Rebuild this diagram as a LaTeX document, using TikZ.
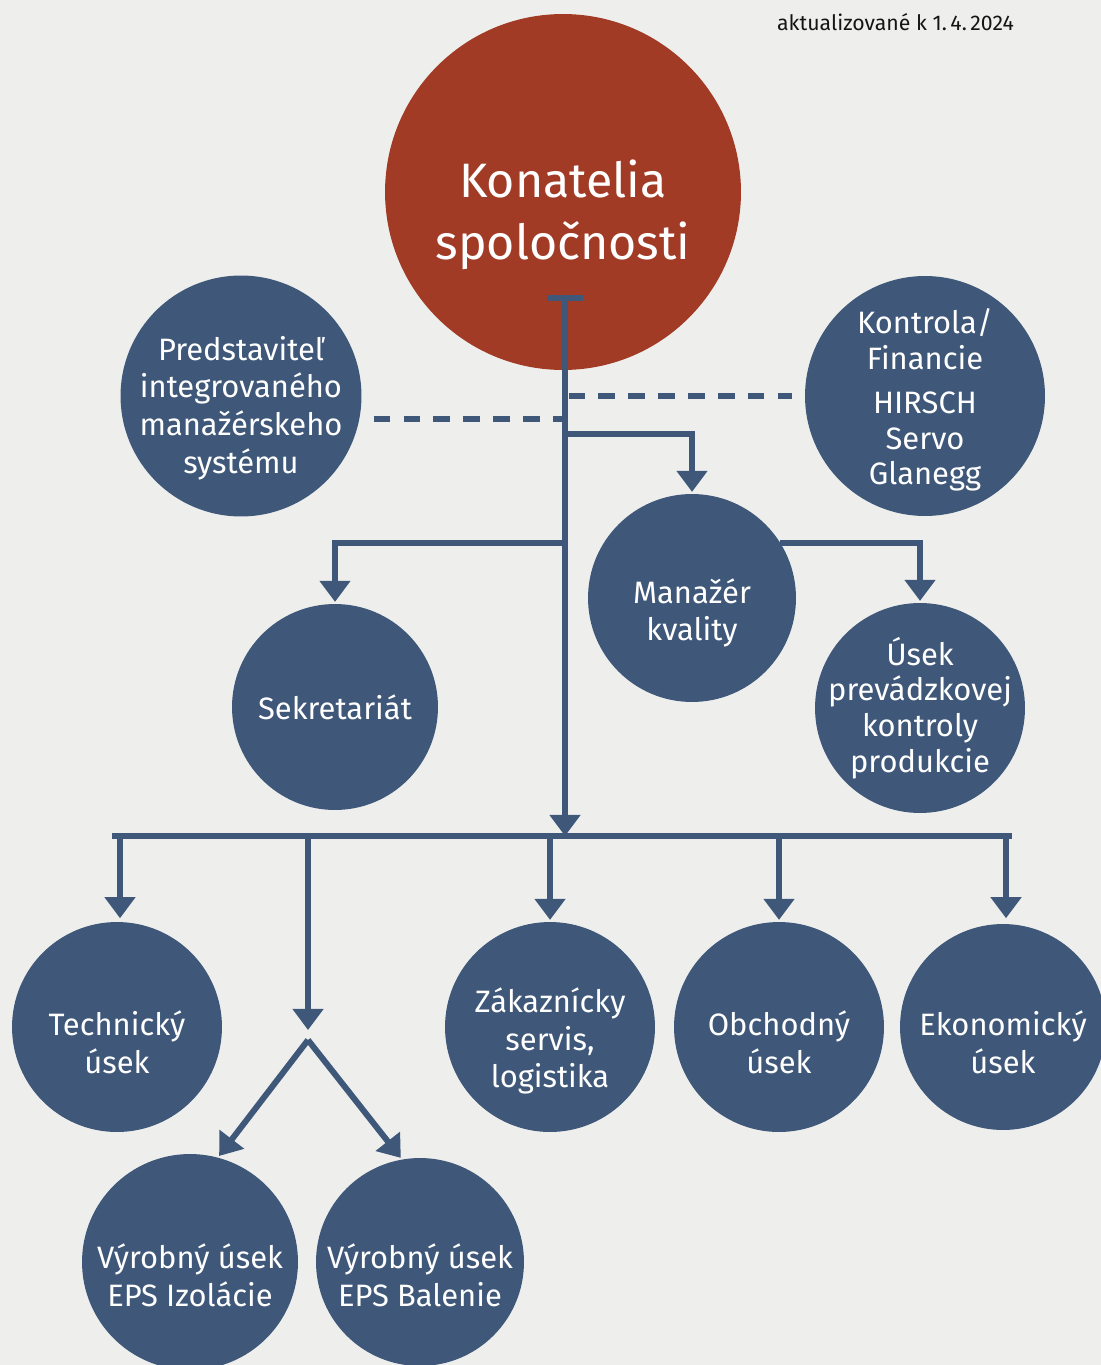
\documentclass[tikz,border=0pt]{standalone}
\usepackage{fontspec}
\setmainfont{Fira Sans}
\usetikzlibrary{arrows.meta}

\begin{document}
\begin{tikzpicture}[x=0.02cm, y=-0.02cm]
    \def\lineWidth{3.4pt}

    \definecolor{backColour}{HTML}{EEEFED}
    \definecolor{unitColour}{HTML}{3F5879}
    \definecolor{headColour}{HTML}{A23B25}
    \definecolor{textColour}{HTML}{141414}

    \tikzset{
        unit/.style={circle, fill=unitColour, inner sep=0pt},
        txt/.style={text=white, inner sep=0pt, align=center,
            font=\fontsize{17.6}{21.5}\selectfont},
        conn/.style={draw=unitColour, line width=\lineWidth},
        tip/.style={-{Triangle[width=17pt,length=12pt]}, shorten >=1pt},
        dashline/.style={draw=unitColour, line width=3pt, dash pattern=on 9.5pt off 7.5pt}
    }

    % Draw background
    \fill[backColour] (0,0) rectangle (1101,1365);
    \useasboundingbox (0,0) rectangle (1101,1365);

    \node[anchor=east, text=textColour, font=\fontsize{12.1}{14}\selectfont] (date) at (1020,22) {aktualizované k 1.\,4.\,2024};

    % Units
    \node[unit, fill=headColour, minimum size=7.12cm,
        label={[txt, yshift=-0.46cm, font=\fontsize{27.5}{35}\selectfont]center:{Konatelia\\spoločnosti}}] (konatelia) at (563,192) {};
    \node[unit, minimum size=4.82cm,
        label={[txt, yshift=-0.24cm]center:{Predstaviteľ\\integrovaného\\manažérskeho\\systému}}] (predstavitel) at (241,396) {};
    \node[unit, minimum size=4.8cm,
        label={[txt, yshift=-0.08cm, font=\fontsize{17.6}{20.3}\selectfont]center:{Kontrola/\\Financie\\[5pt]HIRSCH\\Servo\\Glanegg}}] (kontrola) at (925,396) {};
    \node[unit, minimum size=4.16cm,
        label={[txt, yshift=-0.3cm]center:{Manažér\\kvality}}] (manazer) at (692,598) {};
    \node[unit, minimum size=4.12cm,
        label={[txt]center:{Sekretariát}}] (sekretariat) at (335,707) {};
    \node[unit, minimum size=4.2cm,
        label={[txt, font=\fontsize{17.6}{20.3}\selectfont]center:{Úsek\\prevádzkovej\\kontroly\\produkcie}}] (usek) at (920,708) {};
    \node[unit, minimum size=4.2cm,
        label={[txt, yshift=-0.3cm]center:{Technický\\úsek}}] (technicky) at (117,1027) {};
    \node[unit, minimum size=4.2cm,
        label={[txt, yshift=-0.28cm]center:{Zákaznícky\\servis,\\logistika}}] (zakaznicky) at (550,1027) {};
    \node[unit, minimum size=4.2cm,
        label={[txt, yshift=-0.3cm]center:{Obchodný\\úsek}}] (obchodny) at (779,1027) {};
    \node[unit, minimum size=4.12cm,
        label={[txt, yshift=-0.3cm]center:{Ekonomický\\úsek}}] (ekonomicky) at (1003,1027) {};
    \node[unit, minimum size=4.32cm,
        label={[txt, yshift=-0.26cm]center:{Výrobný úsek\\EPS Izolácie}}] (izolacie) at (190,1262) {};
    \node[unit, minimum size=4.16cm,
        label={[txt, yshift=-0.26cm]center:{Výrobný úsek\\EPS Balenie}}] (balenie) at (420,1262) {};

    % Junctions
    \coordinate (top) at (565,298);
    \coordinate (bus) at (565,836);
    \coordinate (busL) at (112,836);
    \coordinate (busR) at (1012,836);
    \coordinate (jman) at (565,434);
    \coordinate (jsek) at (565,543);
    \coordinate (split) at (308,1040);

    % Main line
    \draw[conn] ([xshift=-0.36cm]top) -- ([xshift=0.36cm]top);
    \draw[conn, tip, shorten >=0pt] (top) -- (bus);
    \draw[conn] (busL) -- (busR);

    % Dashed lines
    \draw[dashline, shorten <=8pt] (predstavitel.-11) -- (predstavitel.-11 -| top);
    \draw[dashline, shorten <=2pt, shorten >=7pt] (top |- kontrola.west) -- (kontrola.west);

    % Upper branches
    \draw[conn, tip] (jman) -| (manazer);
    \draw[conn, tip] (jsek) -| (sekretariat);
    \draw[conn, tip] (manazer.32) -| (usek);

    % Lower branches
    \draw[conn, tip] (busL -| technicky) ++(3,0) -- ++(0,84);
    \draw[conn, tip] (bus -| zakaznicky) -- (zakaznicky);
    \draw[conn, tip] (bus -| obchodny) -- (obchodny);
    \draw[conn, tip] (busR -| ekonomicky) ++(3,0) -- ++(0,84);
    \draw[conn, tip, shorten >=0pt] (bus -| split) -- ++(0,194);
    \draw[conn, tip] (split) -- (izolacie.75);
    \draw[conn, tip] (split) -- (balenie.100);

\end{tikzpicture}
\end{document}
